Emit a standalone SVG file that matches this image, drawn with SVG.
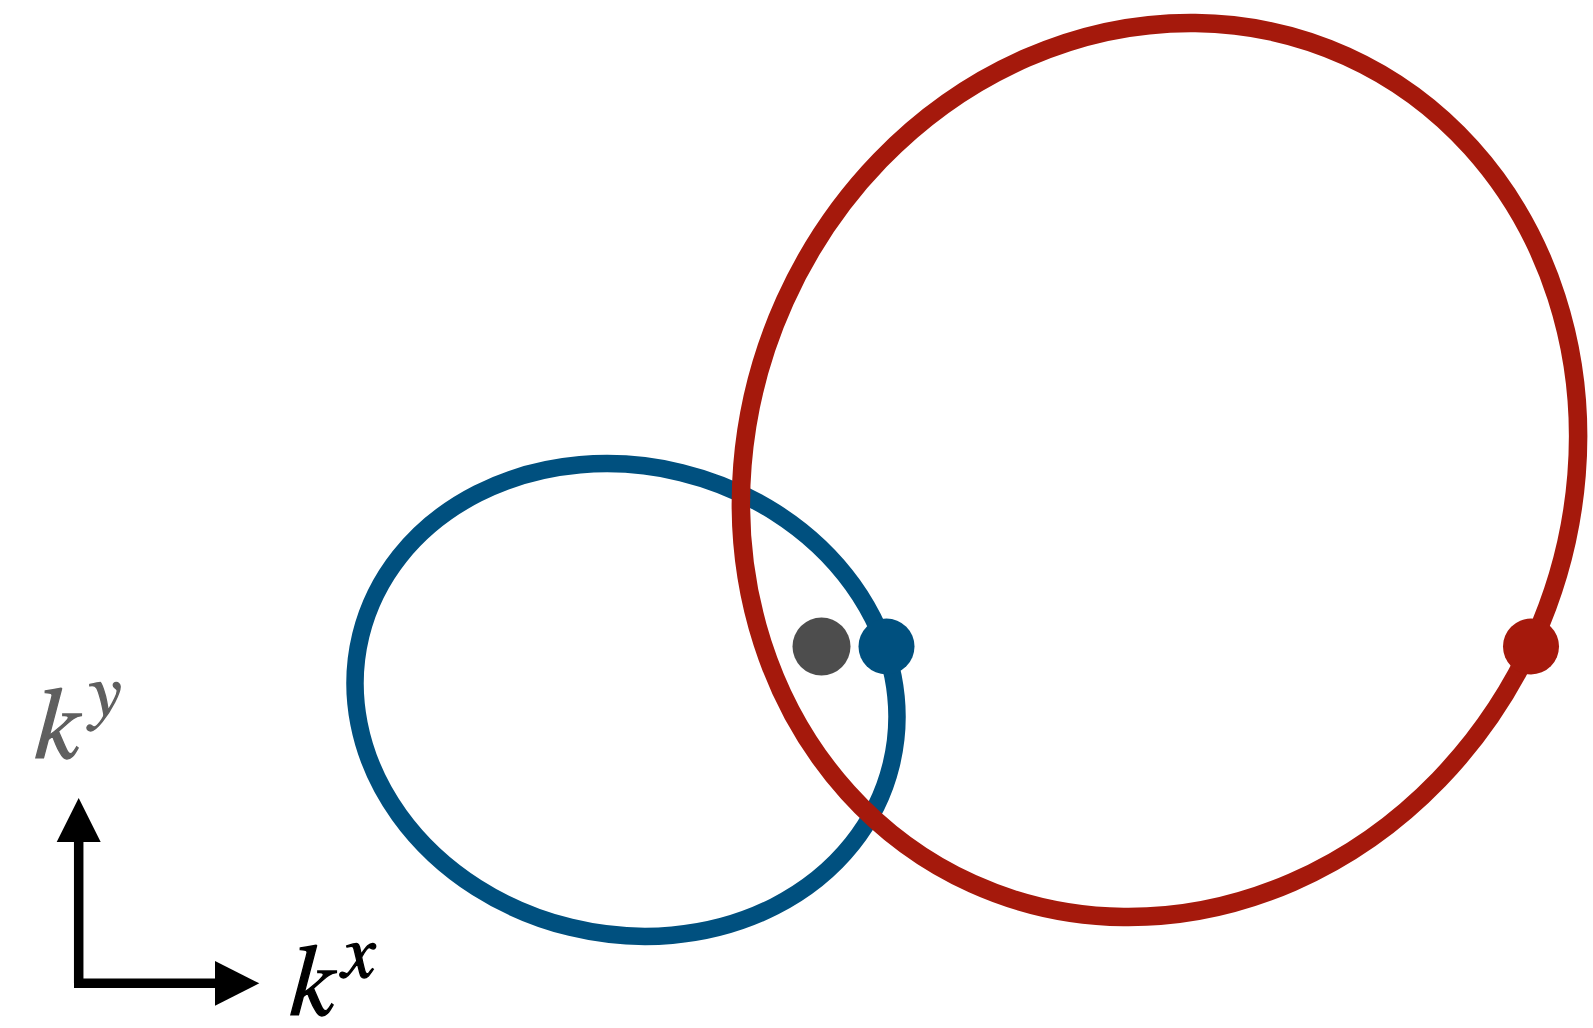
<svg xmlns="http://www.w3.org/2000/svg" width="1593" height="1028" viewBox="0 0 1593 1028">
<style>
.lbl{font-family:"FreeSerif","Liberation Serif","Times New Roman",serif;font-style:italic;stroke-width:1.3}
.ax{stroke:#000;stroke-width:9.5;fill:none}
.band{fill:none}
</style>
<rect width="1593" height="1028" fill="#fff"/>
<g id="blue-band">
<ellipse class="band" cx="626" cy="700" rx="273" ry="234" transform="rotate(13.7 626 700)" stroke="#00507F" stroke-width="17.5"/>
</g>
<g id="red-band">
<ellipse class="band" cx="1159.5" cy="470" rx="411" ry="454" transform="rotate(24.3 1159.5 470)" stroke="#A5190C" stroke-width="18.5"/>
</g>
<g id="points">
<circle cx="821.5" cy="646.5" r="29" fill="#4D4D4D"/>
<circle cx="886.5" cy="646.5" r="28" fill="#00507F"/>
<circle cx="1531" cy="646.5" r="28" fill="#A5190C"/>
</g>
<g id="axes">
<line class="ax" x1="78.7" y1="983" x2="78.7" y2="838"/>
<polygon points="78.7,798 56.7,842 100.7,842" fill="#000"/>
<line class="ax" x1="74" y1="983.3" x2="217" y2="983.3"/>
<polygon points="259.3,983.3 215,961 215,1005.7" fill="#000"/>
<text class="lbl" x="34" y="758" font-size="102" fill="#5F5F5F" stroke="#5F5F5F">k</text>
<text class="lbl" x="86" y="716" font-size="74" fill="#5F5F5F" stroke="#5F5F5F">y</text>
<text class="lbl" x="289" y="1015" font-size="102" fill="#000" stroke="#000">k</text>
<text class="lbl" x="342" y="977" font-size="76" fill="#000" stroke="#000">x</text>
</g>
</svg>
